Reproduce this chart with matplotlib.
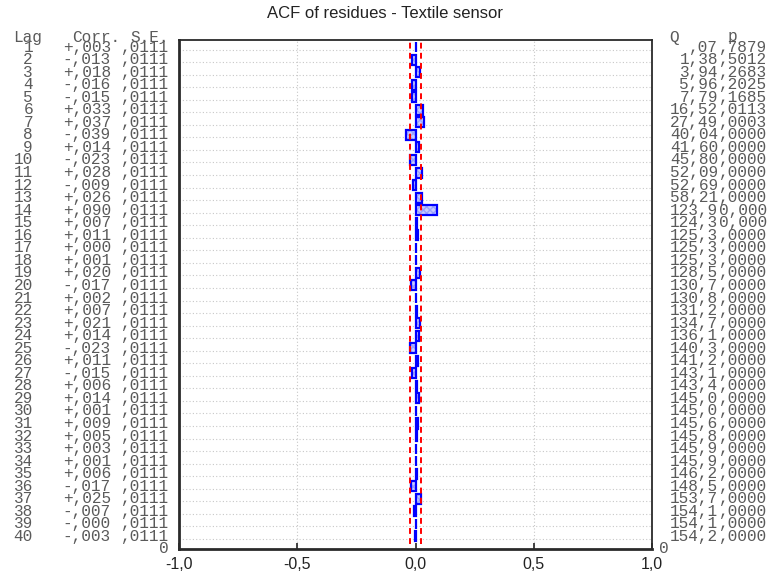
import matplotlib
matplotlib.use("Agg")
import matplotlib.pyplot as plt
from matplotlib.transforms import blended_transform_factory

# ---- data ----
lags = list(range(1, 41))
corr = [0.003, -0.013, 0.018, -0.016, -0.015, 0.033, 0.037, -0.039, 0.014, -0.023,
        0.028, -0.009, 0.026, 0.090, 0.007, 0.011, 0.000, 0.001, 0.020, -0.017,
        0.002, 0.007, 0.021, 0.014, -0.023, 0.011, -0.015, 0.006, 0.014, 0.001,
        0.009, 0.005, 0.003, 0.001, 0.006, -0.017, 0.025, -0.007, -0.000, -0.003]
corr_sign = ['+', '-', '+', '-', '-', '+', '+', '-', '+', '-',
             '+', '-', '+', '+', '+', '+', '+', '+', '+', '-',
             '+', '+', '+', '+', '-', '+', '-', '+', '+', '+',
             '+', '+', '+', '+', '+', '-', '+', '-', '-', '-']
se = [0.0111] * 40
q_text = [',07', '1,38', '3,94', '5,96', '7,79', '16,52', '27,49', '40,04', '41,60', '45,80',
          '52,09', '52,69', '58,21', '123,9', '124,3', '125,3', '125,3', '125,3', '128,5', '130,7',
          '130,8', '131,2', '134,7', '136,1', '140,3', '141,2', '143,1', '143,4', '145,0', '145,0',
          '145,6', '145,8', '145,9', '145,9', '146,2', '148,5', '153,7', '154,1', '154,1', '154,2']
p_text = [',7879', ',5012', ',2683', ',2025', ',1685', ',0113', ',0003', ',0000', ',0000', ',0000',
          ',0000', ',0000', ',0000', '0,000', '0,000', ',0000', ',0000', ',0000', ',0000', ',0000',
          ',0000', ',0000', ',0000', ',0000', ',0000', ',0000', ',0000', ',0000', ',0000', ',0000',
          ',0000', ',0000', ',0000', ',0000', ',0000', ',0000', ',0000', ',0000', ',0000', ',0000']
xticks = [-1.0, -0.5, 0.0, 0.5, 1.0]
xtick_labels = ['-1,0', '-0,5', '0,0', '0,5', '1,0']
title = 'ACF of residues - Textile sensor'

W, H = 770, 577
fig = plt.figure(figsize=(W / 100, H / 100), dpi=100)
ax = fig.add_axes([179 / W, 1 - 549 / H, (652 - 179) / W, (549 - 40) / H])

n = len(lags)
ypos = [n + 1 - l for l in lags]
ax.set_xlim(-1, 1)
ax.set_ylim(0, n + 0.56)

# grid
for y in ypos:
    ax.axhline(y - 0.2, color='#c8c8c8', lw=0.8, ls=(0, (1, 2)), zorder=0)
for x in [-0.5, 0.5]:
    ax.axvline(x, color='#c8c8c8', lw=0.8, ls=(0, (1, 2)), zorder=0)

# bars
ax.barh(ypos, corr, height=0.8, color='#c8ccff', edgecolor='#9aa2ff',
        hatch='xxxxx', linewidth=0, zorder=2)
ax.barh(ypos, corr, height=0.8, fill=False, edgecolor='#0000ff',
        linewidth=1.6, zorder=3)

# confidence limits (+/- 2 S.E.)
lim = 2 * se[0]
for x in (-lim, lim):
    ax.plot([x, x], [0.4, n + 0.5], color='#ff0000', lw=1.4,
            ls=(0, (3, 2.2)), zorder=4)

# axes styling
ax.set_xticks(xticks)
ax.set_xticklabels(xtick_labels, fontsize=11.5, family='Liberation Sans', color='#222222')
ax.tick_params(axis='x', direction='in', length=4, width=1.2, pad=6, color='#222222')
ax.set_yticks([])
for s in ax.spines.values():
    s.set_color('#2a2a2a')
    s.set_linewidth(1.3)
ax.spines['left'].set_linewidth(2.0)
ax.spines['bottom'].set_linewidth(2.0)

fig.text(0.5, 1 - 14 / H, title, ha='center', va='center', fontsize=12,
         family='Liberation Sans', color='#222222')

# ---- side tables ----
tr = blended_transform_factory(fig.transFigure, ax.transData)
mono = dict(family='Liberation Mono', fontsize=11.6, color='#5a5a5a',
            va='center', transform=tr, clip_on=False)
row_px = (549 - 47) / 40.0
ytop = (549 - 37.5) / row_px
fx = lambda px: px / W

ax.text(fx(13.6), ytop, 'Lag', ha='left', **mono)
ax.text(fx(120.3), ytop, 'Corr.', ha='right', **mono)
ax.text(fx(168.8), ytop, 'S.E.', ha='right', **mono)
ax.text(fx(669.7), ytop, 'Q', ha='left', **mono)
ax.text(fx(727.7), ytop + 0.08, 'p', ha='left', **mono)
for i, l in enumerate(lags):
    y = ypos[i]
    ax.text(fx(33), y, str(l), ha='right', **mono)
    ctxt = corr_sign[i] + (',%03d' % round(abs(corr[i]) * 1000))
    ax.text(fx(110.8), y, ctxt, ha='right', **mono)
    stxt = ',%04d' % round(se[i] * 10000)
    ax.text(fx(168.8), y, stxt, ha='right', **mono)
    ax.text(fx(718), y, q_text[i], ha='right', **mono)
    ax.text(fx(767), y, p_text[i], ha='right', **mono)
ax.text(fx(168.8), 0.05, '0', ha='right', **mono)
ax.text(fx(659), 0.05, '0', ha='left', **mono)

fig.savefig('out.png', dpi=100)
